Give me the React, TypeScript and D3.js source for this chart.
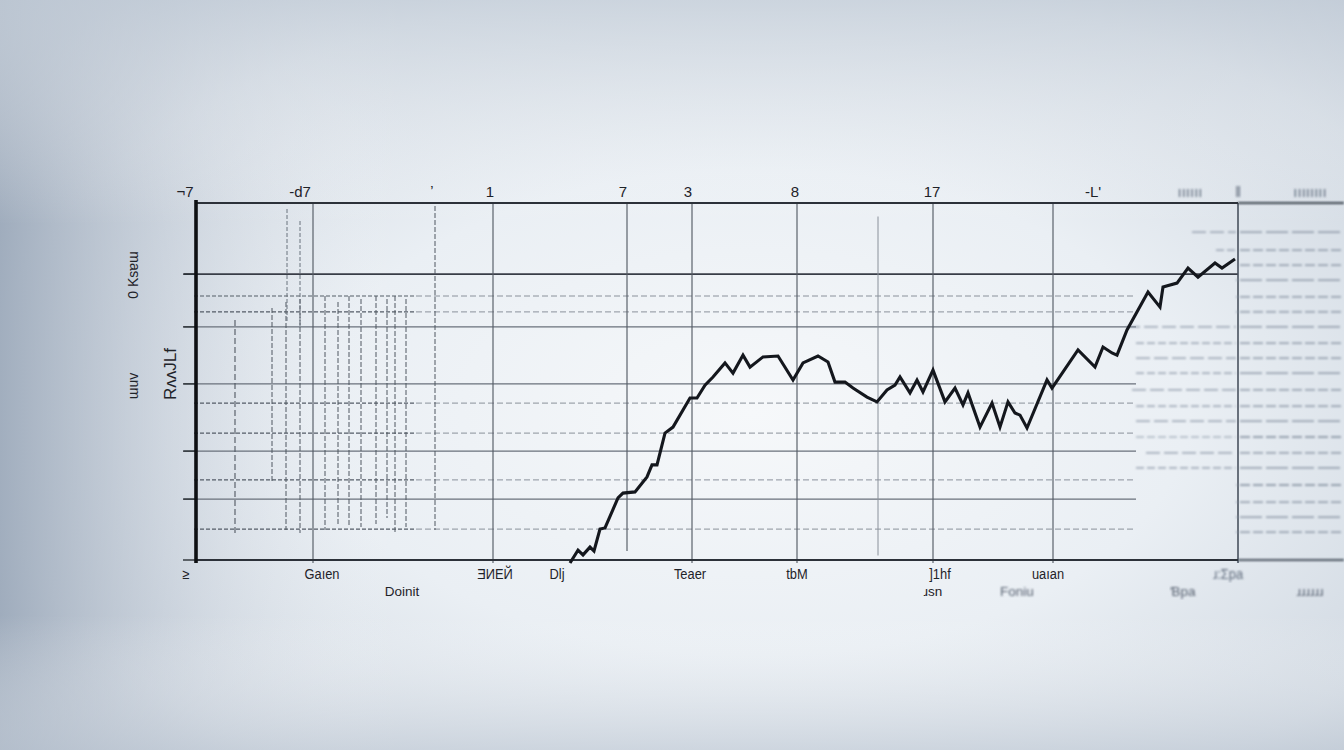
import React from "react";
import * as d3 from "d3";

const W = 1344;
const H = 750;

// line series (x: day index, y: value)
const seriesX = [187,191,193.5,197,199,202,204.5,211,213.5,219.5,225.5,228,230.5,234.5,238.5,247,250.5,254.5,258.5,264.5,268.5,273.5,277,283.5,291,298.5,303.5,311,316,319.5,324.5,328.5,335.5,340.5,345.5,349.5,352,357,360.5,363.5,368.5,374.5,379.5,383.5,386,392,398,402,406,409.5,412,415.5,425.5,428,441,449.5,453.5,458,460.5,465.5,476,482,483.5,490.5,496,501,509.5,513,519.5];
const seriesY = [-1,3.3,1.7,4.3,3,10.3,10.7,20.7,22.3,22.7,27.7,31.7,31.7,42.3,44.3,54,54,58.3,61,65.7,62.3,68.3,64.3,67.7,68,60,65.7,68,66,59.3,59.3,57.3,54.3,52.7,56.7,58.3,61,55.7,60,56,63.3,52.7,57.3,51.7,55.7,44.3,52.3,44.3,52.7,49,48.3,44,60,57.3,70,64.3,71,69,68.3,76.7,89.3,84.3,91,92.3,97.3,94.3,99,97.3,100.3];

// grid
const solidY = [95.3, 77.7, 58.7, 36.3, 20.3];
const dashedY = [88, 82.7, 52.3, 42.3, 26.7, 10.3];
const majorX = [58.5, 148.5, 215.5, 248, 300.5, 368.5, 428.5, 521];
const denseX = [38, 45, 52, 64.5, 71, 76.5, 82.5, 90, 95.5, 99.5, 105, 119.5];
const denseTop = [84, 86, 87, 88, 86, 88, 87, 88, 87, 88, 87, 118];
const denseBottom = [26, 10, 9, 10, 12, 11, 11, 12, 14, 9, 11, 10];
const rightDashY = [109.3,103.3,98.3,93.3,87.7,82.7,77.7,72.3,67.3,62.3,56.7,51.3,46.3,41,35.7,30.7,25,19.3,14.3,9.3];
const rightDashStart = [498,510,520,521,521,521,465,470,470,470,468,470,470,470,475,470,521,521,521,521];

// labels
const topLabels = ["¬7", "-d7", "ʼ", "1", "7", "3", "8", "17", "-L'", "ıııııı", "‖", "ıııııııı"];
const topLabelX = [-5.5, 52, 118, 147, 213.5, 246, 299.5, 368, 448.5, 497, 521, 557];
const bottomLabels1 = ["≥", "Gaıen", "ƎИЕЙ", "Dlj", "Teaer", "tbM", "]1hf", "uaıan", "ɹ:Ʃpa"];
const bottomLabelX1 = [-5, 63, 149.5, 180.5, 247, 300.5, 372, 426, 516];
const bottomLabels2 = ["Doinit", "ɹsn", "Foniu", "Ɓpa", "ɹɹɹɹɹɹ"];
const bottomLabelX2 = [103, 368.5, 410.5, 493.5, 557];
const yLabels = ["0 Ksɐɯ", "ɯuv", "RᴧᴧJLf"];
const yLabelY = [95, 58, 62];

export default function App() {
  const x = d3.scaleLinear().domain([0, 521]).range([196, 1238]);
  const y = d3.scaleLinear().domain([0, 119]).range([560, 203]);
  const line = d3
    .line<number>()
    .x((_, i) => x(seriesX[i]))
    .y((d) => y(d))
    .curve(d3.curveLinear);
  const font = "'Liberation Sans', Arial, sans-serif";
  const blurred = (xv: number) => xv > 470;

  return (
    <svg
      width={W}
      height={H}
      style={{ position: "absolute", left: 0, top: 0, display: "block" }}
    >
      <defs>
        <radialGradient id="bg" cx="0.56" cy="0.55" r="0.72">
          <stop offset="0" stopColor="#f6f8fa" />
          <stop offset="0.45" stopColor="#eaeff4" />
          <stop offset="0.8" stopColor="#d1d9e2" />
          <stop offset="1" stopColor="#b5c0ce" />
        </radialGradient>
        <linearGradient id="leftShade" x1="0" x2="1" y1="0" y2="0">
          <stop offset="0" stopColor="#95a3b5" stopOpacity="0.8" />
          <stop offset="0.12" stopColor="#b0bac8" stopOpacity="0.35" />
          <stop offset="0.3" stopColor="#ffffff" stopOpacity="0" />
        </linearGradient>
        <linearGradient id="topShade" x1="0" x2="0" y1="0" y2="1">
          <stop offset="0" stopColor="#c9d2dc" stopOpacity="0.7" />
          <stop offset="0.3" stopColor="#ffffff" stopOpacity="0" />
          <stop offset="0.82" stopColor="#ffffff" stopOpacity="0" />
          <stop offset="1" stopColor="#c3ccd7" stopOpacity="0.6" />
        </linearGradient>
        <filter id="blur1" x="-5%" y="-5%" width="110%" height="110%">
          <feGaussianBlur stdDeviation="1.2" />
        </filter>
        <filter id="blur05">
          <feGaussianBlur stdDeviation="0.45" />
        </filter>
      </defs>
      <rect width={W} height={H} fill="url(#bg)" />
      <rect width={W} height={H} fill="url(#leftShade)" />
      <rect width={W} height={H} fill="url(#topShade)" />

      <g filter="url(#blur05)">
        {/* dashed horizontal grid */}
        {dashedY.map((v, i) => (
          <g key={"dh" + i}>
            <line x1={x(-1)} x2={x(110)} y1={y(v)} y2={y(v)} stroke="#555c67" strokeWidth={1.1} strokeDasharray="4 2" />
            <line x1={x(110)} x2={x(470)} y1={y(v)} y2={y(v)} stroke="#8a919b" strokeWidth={1} strokeDasharray="6 3" />
          </g>
        ))}
        {/* solid horizontal grid */}
        {solidY.map((v, i) => (
          <line
            key={"sh" + i}
            x1={x(-6)}
            x2={x(i === 0 ? 521 : 470)}
            y1={y(v)}
            y2={y(v)}
            stroke={i === 0 ? "#383d46" : "#6a717b"}
            strokeWidth={i === 0 ? 1.8 : 1.2}
          />
        ))}
        {/* dense dashed verticals */}
        {denseX.map((v, i) => (
          <line
            key={"dv" + i}
            x1={x(v)}
            x2={x(v)}
            y1={y(denseTop[i])}
            y2={y(denseBottom[i])}
            stroke="#4f5661"
            strokeWidth={1}
            strokeDasharray="5 2"
          />
        ))}
        <line x1={x(19.5)} x2={x(19.5)} y1={y(80)} y2={y(8)} stroke="#4f5661" strokeWidth={1.1} strokeDasharray="6 3" />
        <line x1={x(45.5)} x2={x(45.5)} y1={y(117)} y2={y(79)} stroke="#6b727c" strokeWidth={1} strokeDasharray="4 2" />
        <line x1={x(52)} x2={x(52)} y1={y(113)} y2={y(78)} stroke="#6b727c" strokeWidth={1} strokeDasharray="4 2" />
        <line x1={x(341)} x2={x(341)} y1={y(114.5)} y2={y(1.5)} stroke="#8a919b" strokeWidth={1} />
        {/* major verticals */}
        {majorX.map((v, i) => (
          <line
            key={"mv" + i}
            x1={x(v)}
            x2={x(v)}
            y1={y(119)}
            y2={y(v === 215.5 ? 3 : -1)}
            stroke={v === 521 ? "#4a5260" : "#555c66"}
            strokeWidth={v === 521 ? 1.6 : 1.15}
          />
        ))}
        {/* left axis ticks */}
        {[...solidY, 0].map((v, i) => (
          <line key={"lt" + i} x1={x(-6.5)} x2={x(0)} y1={y(v)} y2={y(v)} stroke="#2a2e35" strokeWidth={1.4} />
        ))}
      </g>

      {/* right blurred dashed lines */}
      <g filter="url(#blur1)">
        {rightDashY.map((v, i) => (
          <g key={"rd" + i}>
            <line x1={x(rightDashStart[i])} x2={x(520)} y1={y(v)} y2={y(v)} stroke="#8a95a5" strokeWidth={1.2} strokeDasharray={i % 2 ? "8 3" : "14 4"} />
            <line x1={x(522)} x2={W} y1={y(v)} y2={y(v)} stroke="#7f8a9b" strokeWidth={1.3} strokeDasharray={i % 3 ? "10 3" : "22 4"} />
          </g>
        ))}
        <line x1={x(521)} x2={W} y1={y(119)} y2={y(119)} stroke="#39404c" strokeWidth={2} />
        <line x1={x(521)} x2={W} y1={y(0)} y2={y(0)} stroke="#4a5260" strokeWidth={1.8} />
      </g>

      {/* frame */}
      <line x1={x(0)} x2={x(521)} y1={y(119)} y2={y(119)} stroke="#2c3139" strokeWidth={2.2} />
      <line x1={x(0)} x2={x(521)} y1={y(0)} y2={y(0)} stroke="#2c3139" strokeWidth={2} />
      <line x1={x(0)} x2={x(0)} y1={y(120)} y2={y(-1)} stroke="#0e1013" strokeWidth={3.6} />

      {/* series */}
      <path d={line(seriesY) || ""} fill="none" stroke="#14171d" strokeWidth={3.1} strokeLinejoin="miter" />

      {/* top labels */}
      {topLabels.map((t, i) => (
        <text
          key={"tl" + i}
          x={x(topLabelX[i])}
          y={197}
          textAnchor="middle"
          fontFamily={font}
          fontSize={15}
          fontWeight={blurred(topLabelX[i]) ? 400 : 500}
          fill={blurred(topLabelX[i]) ? "#5f6b7c" : "#1e2228"}
          filter={blurred(topLabelX[i]) ? "url(#blur1)" : undefined}
        >
          {t}
        </text>
      ))}
      {/* bottom labels */}
      {bottomLabels1.map((t, i) => (
        <text
          key={"b1" + i}
          x={x(bottomLabelX1[i])}
          y={579}
          textAnchor="middle"
          fontFamily={font}
          fontSize={14}
          fill={blurred(bottomLabelX1[i]) ? "#5f6b7c" : "#1f2329"}
          filter={blurred(bottomLabelX1[i]) ? "url(#blur1)" : undefined}
          transform={`translate(${x(bottomLabelX1[i])},0) scale(0.92,1) translate(${-x(bottomLabelX1[i])},0)`}
        >
          {t}
        </text>
      ))}
      {bottomLabels2.map((t, i) => (
        <text
          key={"b2" + i}
          x={x(bottomLabelX2[i])}
          y={596}
          textAnchor="middle"
          fontFamily={font}
          fontSize={13.5}
          fill={bottomLabelX2[i] > 400 ? "#56606f" : "#1f2329"}
          filter={bottomLabelX2[i] > 400 ? "url(#blur1)" : undefined}
        >
          {t}
        </text>
      ))}
      {/* rotated y labels */}
      {yLabels.map((t, i) => {
        const cx = i === 2 ? 172 : 134;
        const cy = y(yLabelY[i]);
        return (
          <text
            key={"yl" + i}
            x={cx}
            y={cy}
            textAnchor="middle"
            dominantBaseline="middle"
            fontFamily={font}
            fontSize={i === 2 ? 17 : 14}
            fill="#1f2329"
            transform={`rotate(-90 ${cx} ${cy})`}
          >
            {t}
          </text>
        );
      })}
    </svg>
  );
}
